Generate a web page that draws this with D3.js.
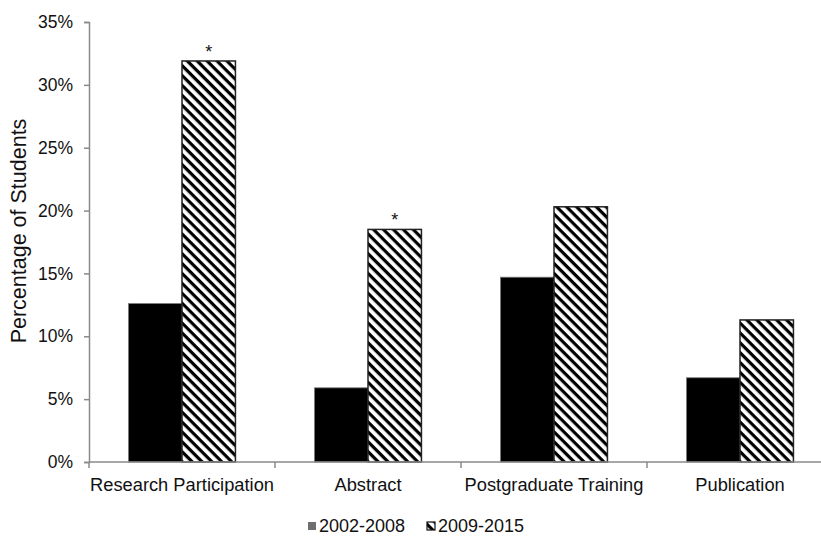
<!DOCTYPE html>
<html>
<head>
<meta charset="utf-8">
<script src="https://cdn.jsdelivr.net/npm/d3@7"></script>
<style>
  body { margin: 0; background: #fff; }
  text { font-family: "Liberation Sans", Arial, sans-serif; fill: #111; }
</style>
</head>
<body>
<div id="chart"></div>
<script>
var width = 821;
var height = 539;

// data
var categories = ["Research Participation", "Abstract", "Postgraduate Training", "Publication"];
var seriesNames = ["2002-2008", "2009-2015"];
var values2002 = [12.6, 5.9, 14.7, 6.7];
var values2009 = [31.9, 18.5, 20.3, 11.3];
var significant = [true, true, false, false];
var yTicks = [0, 5, 10, 15, 20, 25, 30, 35];

var data = categories.map(function (c, i) {
    return { cat: c, vals: [values2002[i], values2009[i]], star: significant[i] };
});

var svg = d3.select("#chart")
    .append("svg")
    .attr("width", width)
    .attr("height", height);

var defs = svg.append("defs");
var hatch = defs.append("pattern")
    .attr("id", "hatch")
    .attr("patternUnits", "userSpaceOnUse")
    .attr("width", 7)
    .attr("height", 7)
    .attr("patternTransform", "rotate(45)");
hatch.append("rect").attr("width", 7).attr("height", 7).attr("fill", "#fff");
hatch.append("rect").attr("y", 0).attr("width", 7).attr("height", 3.2).attr("fill", "#000");

var plotLeft = 89, plotTop = 22, plotBottom = 462;

var xScale = d3.scaleBand().domain(categories).range([plotLeft, plotLeft + 186 * 4]);
var x1 = d3.scaleBand().domain(seriesNames).range([0, xScale.bandwidth()]).paddingOuter(0.74);
var yScale = d3.scaleLinear().domain([0, 35]).range([plotBottom, plotTop]);

// y axis
var yAxis = d3.axisLeft(yScale)
    .tickValues(yTicks)
    .tickSize(5)
    .tickPadding(11)
    .tickFormat(function (d) { return d + "%"; });

var gy = svg.append("g")
    .attr("transform", "translate(" + plotLeft + ",0)")
    .call(yAxis);
gy.select(".domain").attr("stroke", "#8a8a8a").attr("stroke-width", 1.5);
gy.selectAll(".tick line").attr("stroke", "#8a8a8a").attr("stroke-width", 1.5);
gy.selectAll(".tick text")
    .attr("font-size", 17.5)
    .attr("font-family", "Liberation Sans, Arial, sans-serif")
    .attr("fill", "#111");

// bars
var groups = svg.append("g")
    .selectAll(".group")
    .data(data)
    .enter()
    .append("g")
    .attr("class", "group")
    .attr("transform", function (d) { return "translate(" + xScale(d.cat) + ",0)"; });

groups.selectAll("rect")
    .data(function (d) { return d.vals.map(function (v, j) { return { s: seriesNames[j], v: v, j: j }; }); })
    .enter()
    .append("rect")
    .attr("x", function (d) { return x1(d.s); })
    .attr("y", function (d) { return yScale(d.v); })
    .attr("width", x1.bandwidth())
    .attr("height", function (d) { return plotBottom - yScale(d.v); })
    .attr("fill", function (d) { return d.j === 0 ? "#000" : "url(#hatch)"; })
    .attr("stroke", function (d) { return d.j === 0 ? "#777" : "#222"; })
    .attr("stroke-width", function (d) { return d.j === 0 ? 0.8 : 1.5; });

groups.filter(function (d) { return d.star; })
    .append("text")
    .attr("x", x1(seriesNames[1]) + x1.bandwidth() / 2)
    .attr("y", function (d) { return yScale(d.vals[1]) - 3; })
    .attr("text-anchor", "middle")
    .attr("font-size", 18)
    .text("*");

// x axis
var xAxis = d3.axisBottom(xScale).tickSize(0).tickPadding(16);
var gx = svg.append("g")
    .attr("transform", "translate(0," + plotBottom + ")")
    .call(xAxis);
gx.select(".domain").remove();
gx.append("line")
    .attr("x1", plotLeft).attr("x2", width)
    .attr("stroke", "#8a8a8a").attr("stroke-width", 1.5);
gx.selectAll(".bound")
    .data(categories)
    .enter()
    .append("line")
    .attr("class", "bound")
    .attr("x1", function (d) { return xScale(d); })
    .attr("x2", function (d) { return xScale(d); })
    .attr("y1", 0).attr("y2", 6)
    .attr("stroke", "#8a8a8a").attr("stroke-width", 1.5);
gx.selectAll(".tick text")
    .attr("font-size", 18.3)
    .attr("font-family", "Liberation Sans, Arial, sans-serif")
    .attr("fill", "#111");

// y title
svg.append("text")
    .attr("transform", "translate(26,231) rotate(-90)")
    .attr("text-anchor", "middle")
    .attr("font-size", 21.5)
    .text("Percentage of Students");

// legend
var legendX = [308, 427];
var legend = svg.append("g")
    .selectAll(".legend")
    .data(seriesNames)
    .enter()
    .append("g")
    .attr("transform", function (d, i) { return "translate(" + legendX[i] + ",522)"; });
legend.append("rect")
    .attr("width", 8).attr("height", 8)
    .attr("fill", function (d, i) { return i === 0 ? "#6e6e6e" : "url(#hatch)"; })
    .attr("stroke", function (d, i) { return i === 0 ? "none" : "#111"; })
    .attr("stroke-width", 1.2);
legend.append("text")
    .attr("x", 11)
    .attr("y", 10)
    .attr("font-size", 18)
    .text(function (d) { return d; });
</script>
</body>
</html>
